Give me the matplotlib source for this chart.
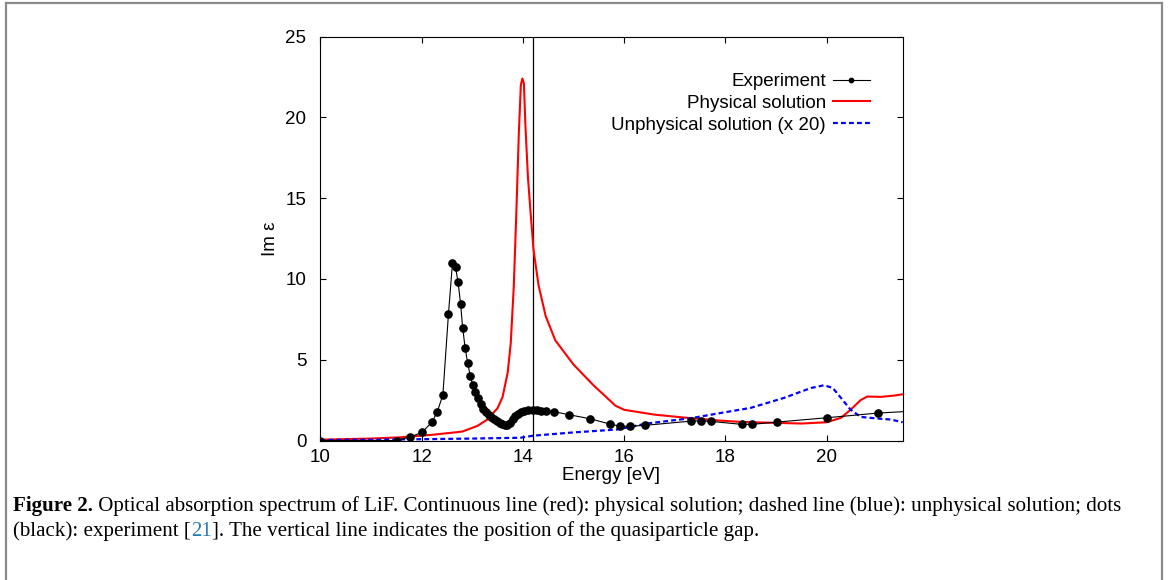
import matplotlib
matplotlib.use("Agg")
import matplotlib.pyplot as plt
from matplotlib.lines import Line2D

# ---------------- data ----------------
exp_x = [10.0, 11.51, 11.77, 12.01, 12.21, 12.31, 12.42, 12.53, 12.61, 12.67,
         12.72, 12.77, 12.81, 12.86, 12.91, 12.96, 13.01, 13.06, 13.11, 13.17,
         13.22, 13.27, 13.33, 13.38, 13.43, 13.48, 13.54, 13.59, 13.64, 13.68,
         13.74, 13.80, 13.85, 13.91, 13.96, 14.03, 14.11, 14.20, 14.28, 14.36,
         14.46, 14.62, 14.92, 15.32, 15.72, 15.92, 16.11, 16.42, 17.32, 17.52,
         17.72, 18.32, 18.52, 19.02, 20.01, 21.02, 22.02]
exp_y = [0.0, 0.0, 0.22, 0.50, 1.16, 1.78, 2.81, 7.81, 10.98, 10.73,
         9.80, 8.47, 6.99, 5.73, 4.80, 4.02, 3.43, 2.99, 2.64, 2.25,
         1.96, 1.74, 1.57, 1.43, 1.31, 1.20, 1.10, 1.00, 0.94, 0.94,
         1.10, 1.31, 1.51, 1.65, 1.76, 1.84, 1.88, 1.88, 1.86, 1.84,
         1.84, 1.78, 1.59, 1.35, 1.02, 0.88, 0.88, 0.94, 1.20, 1.22,
         1.18, 1.00, 1.00, 1.14, 1.41, 1.70, 1.87]

phys_x = [10.0, 11.0, 11.6, 12.2, 12.8, 13.1, 13.3, 13.5, 13.6, 13.7,
          13.76, 13.82, 13.87, 13.92, 13.96, 13.99, 14.02, 14.05, 14.10, 14.15,
          14.21, 14.31, 14.45, 14.64, 15.0, 15.4, 15.83, 16.0, 16.6, 17.25,
          17.9, 18.3, 19.5, 20.0, 20.28, 20.47, 20.67, 20.8, 21.07, 21.33, 21.5]
phys_y = [0.05, 0.12, 0.20, 0.35, 0.55, 0.90, 1.30, 2.00, 2.70, 4.20,
          6.00, 9.50, 14.0, 19.0, 22.0, 22.4, 22.1, 19.5, 16.3, 14.2,
          11.8, 9.6, 7.7, 6.2, 4.7, 3.4, 2.15, 1.90, 1.60, 1.40,
          1.23, 1.15, 1.05, 1.13, 1.40, 1.90, 2.50, 2.72, 2.70, 2.78, 2.86]

unphys_x = [10.0, 11.0, 12.0, 13.0, 13.95, 14.21, 15.0, 15.86, 16.45, 17.32,
            17.92, 18.5, 19.16, 19.69, 19.95, 20.12, 20.28, 20.47, 20.67, 21.0,
            21.26, 21.5]
unphys_y = [0.03, 0.05, 0.08, 0.12, 0.17, 0.30, 0.50, 0.68, 1.05, 1.38,
            1.71, 2.02, 2.64, 3.25, 3.42, 3.25, 2.64, 1.91, 1.46, 1.36,
            1.30, 1.13]

gap_energy = 14.2

x_ticks = [10, 12, 14, 16, 18, 20]
y_ticks = [0, 5, 10, 15, 20, 25]

labels = ["Experiment", "Physical solution", "Unphysical solution (x 20)"]

caption_line1 = [("Figure 2.", "bold", "black"),
                 (" Optical absorption spectrum of LiF. Continuous line (red): physical solution; "
                  "dashed line (blue): unphysical solution; dots", "normal", "black")]
caption_line2 = [("(black): experiment [", "normal", "black"),
                 ("21", "normal", "#2b7bba"),
                 ("]. The vertical line indicates the position of the quasiparticle gap.",
                  "normal", "black")]

# ---------------- figure ----------------
W, H = 1168, 580
fig = plt.figure(figsize=(W / 100, H / 100), dpi=100)
plt.rcParams['font.family'] = ['Liberation Sans', 'DejaVu Sans']
FS = 13.5

ax_l, ax_r, ax_t, ax_b = 320.3, 902.7, 36.5, 440.5
ax = fig.add_axes([ax_l / W, 1 - ax_b / H, (ax_r - ax_l) / W, (ax_b - ax_t) / H])

ax.plot(exp_x, exp_y, color="black", lw=0.8, marker="o", ms=5.2,
        label=labels[0], zorder=4)
ax.plot(phys_x, phys_y, color="#ff0000", lw=1.5, label=labels[1], zorder=3)
ax.plot(unphys_x, unphys_y, color="#0000ff", lw=1.6, ls=(0, (2.2, 1.4)),
        label=labels[2], zorder=3)
ax.axvline(gap_energy, color="black", lw=0.9, zorder=2)

ax.set_xlim(10, 21.5)
ax.set_ylim(0, 25)
ax.set_xticks(x_ticks)
ax.set_yticks(y_ticks)
ax.tick_params(direction="in", top=True, right=True, length=4, width=0.8,
               labelsize=FS)
ax.tick_params(axis="x", pad=6)
ax.tick_params(axis="y", pad=10)
for s in ax.spines.values():
    s.set_linewidth(0.8)

ax.set_xlabel("Energy [eV]", fontsize=FS, labelpad=1)
ax.set_ylabel("Im ε", fontsize=FS, labelpad=4.5)

leg = ax.legend(loc="upper right", bbox_to_anchor=((870 - ax_l) / (ax_r - ax_l),
                                                    (ax_b - 73) / (ax_b - ax_t)),
                frameon=False, markerfirst=False, fontsize=FS,
                handlelength=2.0, handletextpad=0.35, labelspacing=0.25,
                borderpad=0, borderaxespad=0, markerscale=0.6)

# ---------------- border ----------------
bc = "#8a8a8a"
fig.add_artist(Line2D([5.5 / W, 5.5 / W], [-0.1, 1 - 3 / H], transform=fig.transFigure,
                      color=bc, lw=1.6))
fig.add_artist(Line2D([5.5 / W, 1162 / W], [1 - 3 / H, 1 - 3 / H], transform=fig.transFigure,
                      color=bc, lw=1.6))
fig.add_artist(Line2D([1162 / W, 1162 / W], [-0.1, 1 - 3 / H], transform=fig.transFigure,
                      color=bc, lw=1.6))

# ---------------- caption ----------------
renderer = fig.canvas.get_renderer()
cap_x0 = 13.0
cap_x1 = 1122.0


def write_line(pieces, baseline_px, fs, draw=True):
    x = cap_x0
    made = []
    for txt, weight, col in pieces:
        t = fig.text(x / W, 1 - baseline_px / H, txt, fontsize=fs,
                     fontweight=weight, color=col, family=["Liberation Serif"],
                     va="baseline", ha="left")
        bb = t.get_window_extent(renderer)
        x += bb.width
        made.append(t)
    if not draw:
        for t in made:
            t.remove()
    return x - cap_x0


# fit the caption font size to the reference line width
w0 = write_line(caption_line1, 511, 12.0, draw=False)
cap_fs = 12.0 * (cap_x1 - cap_x0) / w0

write_line(caption_line1, 511, cap_fs)
write_line(caption_line2, 536, cap_fs)

fig.savefig("out.png", dpi=100)
